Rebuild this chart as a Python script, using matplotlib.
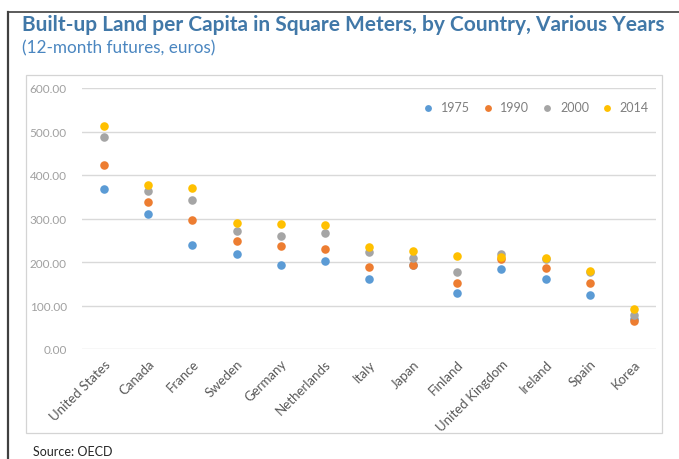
import numpy as np
from matplotlib import pyplot as plt
from matplotlib.lines import Line2D
from matplotlib.patches import Rectangle

# data
countries = ['United States', 'Canada', 'France', 'Sweden', 'Germany', 'Netherlands',
             'Italy', 'Japan', 'Finland', 'United Kingdom', 'Ireland', 'Spain', 'Korea']
years = ['1975', '1990', '2000', '2014']
v1975 = [367, 310, 238, 218, 192, 203, 160, 192, 128, 183, 160, 125, 70]
v1990 = [423, 337, 296, 248, 237, 230, 188, 192, 151, 208, 187, 151, 64]
v2000 = [487, 364, 343, 272, 259, 267, 222, 209, 176, 218, 207, 178, 78]
v2014 = [513, 376, 369, 289, 287, 285, 234, 225, 213, 211, 209, 179, 91]
colors = ['#5B9BD5', '#ED7D31', '#A5A5A5', '#FFC000']

W, H = 679, 460
fig = plt.figure(figsize=(W / 100, H / 100), dpi=100)
plt.rcParams['font.family'] = ['Lato', 'DejaVu Sans']

# frame pieces
fig.add_artist(Line2D([8 / W, 8 / W], [0, 1 - 13 / H], color='#404040', lw=1.6))
fig.add_artist(Line2D([8 / W, 1], [1 - 13 / H, 1 - 13 / H], color='#404040', lw=1.2))
fig.add_artist(Rectangle((26 / W, 1 - 434 / H), (662 - 26) / W, (434 - 76) / H,
                         fill=False, edgecolor='#D4D4D4', lw=0.9))

ax = fig.add_axes([82 / W, 1 - 350 / H, (656 - 82) / W, (350 - 89) / H])
x = np.arange(len(countries))
for vals, yr, c in zip([v1975, v1990, v2000, v2014], years, colors):
    ax.scatter(x, vals, s=38, color=c, label=yr, zorder=3, linewidths=0)

ax.set_xlim(-0.5, len(countries) - 0.5)
ax.set_ylim(0, 600)
ax.set_yticks(np.arange(0, 601, 100))
ax.set_yticklabels(['%.2f' % v for v in np.arange(0, 601, 100)])
ax.yaxis.grid(True, color='#D9D9D9', lw=1, zorder=0)
ax.set_axisbelow(True)
for s in ax.spines.values():
    s.set_visible(False)
ax.tick_params(axis='y', length=0, labelsize=8.5, labelcolor='#A0A0A0', pad=11)
ax.set_xticks(x)
ax.set_xticklabels(countries, rotation=45, ha='right', rotation_mode='anchor',
                   fontsize=9.5, color='#595959')
ax.tick_params(axis='x', length=0, pad=6)

ax.legend(loc='upper right', bbox_to_anchor=(0.996, 0.97), ncol=4, frameon=False,
          fontsize=9, labelcolor='#7F7F7F', handletextpad=0.0, columnspacing=0.45,
          markerscale=0.8, borderaxespad=0)

fig.text(22 / W, 1 - 31 / H, 'Built-up Land per Capita in Square Meters, by Country, Various Years',
         fontsize=15, fontweight='bold', color='#4178A8', va='baseline')
fig.text(22 / W, 1 - 53 / H, '(12-month futures, euros)',
         fontsize=12.3, color='#4A86C0', va='baseline')
fig.text(33 / W, 1 - 446 / H, 'Source: OECD', fontsize=9, color='#262626', va='top')

fig.savefig('out.png', dpi=100)
